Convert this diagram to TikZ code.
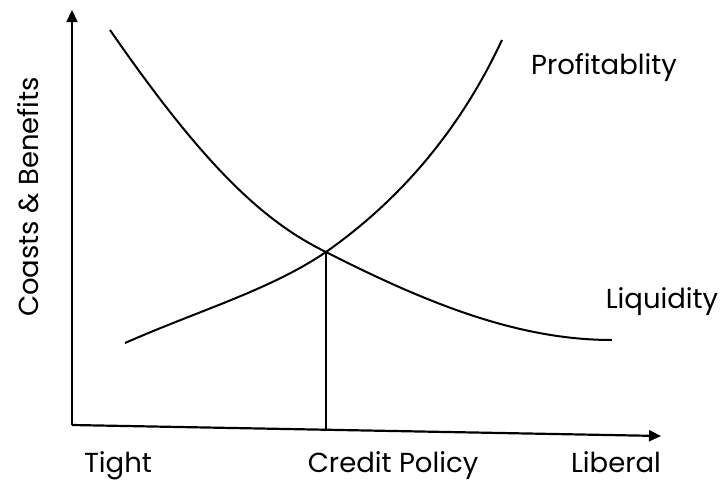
\documentclass[tikz,border=0pt]{standalone}
\usepackage{fontspec}
\setmainfont{Poppins}
\usetikzlibrary{arrows.meta}

\begin{document}
\begin{tikzpicture}[x=1pt, y=-1pt, every node/.style={font=\fontsize{27.5}{30}\selectfont},
  axis/.style={line width=2.2pt, -{Triangle[length=12pt,width=11pt]}},
  curve/.style={line width=2pt},
  tick label/.style={anchor=base, inner sep=0pt}]
  \useasboundingbox (0,0) rectangle (724,482);
  % axes
  \coordinate (O) at (72,425);
  \coordinate (ytip) at (72,10);
  \coordinate (xtip) at (661,436);
  \draw[axis] (O) -- (ytip);
  \draw[axis] (O) -- (xtip);
  % curves
  \coordinate (cross) at (326,252);
  \coordinate (base) at (326,430);
  \draw[curve] (110,30) .. controls (200,160) and (260,220) .. (cross)
    .. controls (430,305) and (520,340) .. (612,340);
  \draw[curve] (125,343) .. controls (200,310) and (270,290) .. (cross)
    .. controls (400,200) and (460,130) .. (502,40);
  \draw[curve] (cross) -- (base);
  % labels
  \node (profit) at (604,68) {Profitablity};
  \node (liquid) at (662,302) {Liquidity};
  \node[tick label] (tight) at (118,472) {Tight};
  \node[tick label] (credit) at (393,472) {Credit Policy};
  \node[tick label] (liberal) at (616,472) {Liberal};
  \node[rotate=90] (cb) at (28,197) {Coasts \& Benefits};
\end{tikzpicture}
\end{document}
